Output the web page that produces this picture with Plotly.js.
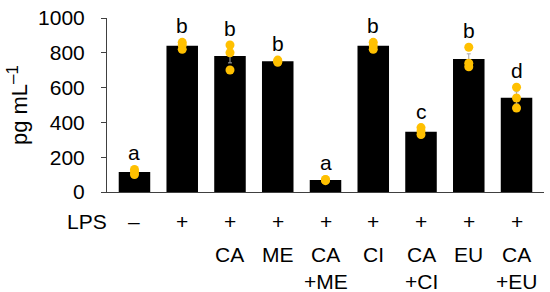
<!DOCTYPE html>
<html>
<head>
<meta charset="utf-8">
<script src="https://cdn.plot.ly/plotly-3.0.1.min.js"></script>
<style>
  html, body { margin: 0; padding: 0; background: #fff; }
  #chart { width: 550px; height: 292px; }
</style>
</head>
<body>
<div id="chart"></div>
<script>
// groups (one per bar)
const groups = ['g1', 'g2', 'g3', 'g4', 'g5', 'g6', 'g7', 'g8', 'g9'];
const means = [115, 840, 782, 752, 69, 840, 346, 764, 541];
const sem = [10, 12, 40, 3, 2, 12, 15, 30, 35];
const rep1 = [100, 820, 845, 745, 65, 820, 330, 832, 602];
const rep2 = [115, 845, 800, 752, 70, 840, 350, 740, 540];
const rep3 = [130, 860, 701, 758, 72, 860, 370, 720, 483];
const letters = ['a', 'b', 'b', 'b', 'a', 'b', 'c', 'b', 'd'];
// treatment rows under the axis
const lpsRow = ['–', '+', '+', '+', '+', '+', '+', '+', '+'];
const row2 = ['', '', 'CA', 'ME', 'CA', 'CI', 'CA', 'EU', 'CA'];
const row3 = ['', '', '', '', '+ME', '', '+CI', '', '+EU'];
const yTicks = [0, 200, 400, 600, 800, 1000];

const FONT = 'Liberation Sans, Arial, sans-serif';
const FS = 21;
const axisCol = '#404040';

const dotX = [], dotY = [];
groups.forEach((g, i) => {
  [rep1, rep2, rep3].forEach(r => { dotX.push(g); dotY.push(r[i]); });
});

const traces = [
  {type: 'bar', x: groups, y: means, marker: {color: '#000000'},
   error_y: {type: 'data', array: sem, visible: true, color: '#a6a6a6', thickness: 1, width: 2},
   hoverinfo: 'y'},
  {type: 'scatter', mode: 'markers', x: dotX, y: dotY,
   marker: {color: '#FFC000', size: 9}, hoverinfo: 'y'}
];

const txt = {family: FONT, size: FS, color: '#000'};
const annotations = [];
groups.forEach((g, i) => {
  const top = Math.max(rep1[i], rep2[i], rep3[i], means[i] + sem[i]);
  annotations.push({x: g, y: top, xref: 'x', yref: 'y', text: letters[i], showarrow: false,
    yanchor: 'bottom', yshift: 3, font: txt});
  annotations.push({x: g, y: -0.172, xref: 'x', yref: 'paper', text: lpsRow[i], showarrow: false,
    yanchor: 'middle', font: txt});
  if (row2[i]) annotations.push({x: g, y: -0.362, xref: 'x', yref: 'paper', text: row2[i], showarrow: false,
    yanchor: 'middle', font: txt});
  if (row3[i]) annotations.push({x: g, y: -0.515, xref: 'x', yref: 'paper', text: row3[i], showarrow: false,
    yanchor: 'middle', font: txt});
});
annotations.push({x: 0, y: -0.172, xref: 'paper', yref: 'paper', text: 'LPS', showarrow: false,
  xanchor: 'right', yanchor: 'middle', xshift: 2, font: txt});

const layout = {
  width: 550, height: 292,
  margin: {l: 107, r: 6, t: 18, b: 100},
  paper_bgcolor: '#fff', plot_bgcolor: '#fff',
  showlegend: false,
  bargap: 0.34,
  font: txt,
  xaxis: {type: 'category', showticklabels: false, ticks: '', showgrid: false,
    showline: true, linecolor: axisCol, linewidth: 1, zeroline: false, fixedrange: true},
  yaxis: {range: [0, 1000], tickvals: yTicks, ticks: 'outside', ticklen: 5, tickcolor: axisCol,
    ticklabelstandoff: 12,
    showgrid: false, showline: true, linecolor: axisCol, linewidth: 1, zeroline: false,
    tickfont: txt,
    title: {text: 'pg mL<sup><span style="font-size:17px">–1</span></sup>',
      font: {family: FONT, size: 22, color: '#000'}, standoff: 4}},
  annotations: annotations
};

Plotly.newPlot('chart', traces, layout, {displayModeBar: false, staticPlot: true});
</script>
</body>
</html>
